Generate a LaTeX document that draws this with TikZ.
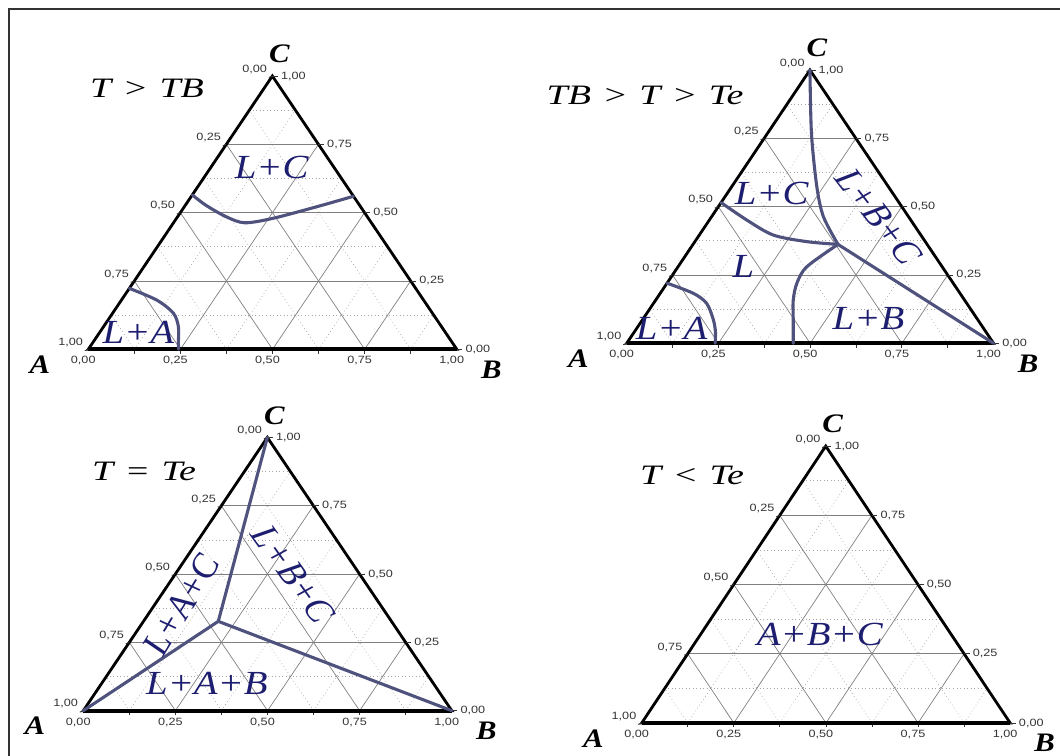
\documentclass[tikz,border=0pt]{standalone}
\usepackage{fontspec}
\setmainfont{Liberation Serif}
\newfontfamily\tickfont{Liberation Sans}
\usepackage{tikz}
\usetikzlibrary{calc}
\usepackage{xcolor}
\definecolor{phasecol}{RGB}{78,82,125}
\definecolor{labelcol}{RGB}{30,30,112}

\tikzset{
  gridmajor/.style={black!50, line width=0.5pt},
  gridminor/.style={black!35, dotted, line width=0.5pt},
  frameline/.style={black, line width=2pt},
  tickline/.style={black!80, line width=0.6pt},
  ticklabel/.style={font=\tickfont\fontsize{7.5}{9}\selectfont, xscale=1.2, inner sep=0pt, text=black!80},
  phaseline/.style={phasecol, line width=2.2pt, line cap=round},
  phaselabel/.style={labelcol, font=\fontsize{24}{28}\selectfont\itshape, xscale=1.15, inner sep=0pt},
  vertexlabel/.style={font=\fontsize{19}{22}\selectfont\bfseries\itshape, xscale=1.15, inner sep=0pt},
  paneltitle/.style={font=\fontsize{20}{24}\selectfont\itshape, xscale=1.35, inner sep=0pt},
}

% grid, frame, ticks and corner labels of one ternary diagram
% coordinates inside are (B fraction, C fraction)
\newcommand{\ternaryframe}[1]{%
  \foreach \k in {0.125,0.375,0.625,0.875}{
    \draw[gridminor] (0,\k) -- ({1-\k},\k);
    \draw[gridminor] (\k,0) -- (\k,{1-\k});
    \draw[gridminor] (\k,0) -- (0,\k);
  }
  \foreach \k in {0.25,0.5,0.75}{
    \draw[gridmajor] (0,\k) -- ({1-\k},\k);
    \draw[gridmajor] (\k,0) -- (\k,{1-\k});
    \draw[gridmajor] (\k,0) -- (0,\k);
  }
  \foreach \k in {0.125,0.25,...,0.875}
    \draw[tickline] (\k,0) -- ++(0,-3pt);
  \draw[frameline] (0,0) -- (1,0) -- (0,1) -- cycle;
  \draw[black, line width=2.6pt] (0,0) -- (1,0);
  \foreach \v/\t [count=\i] in {0/{0,00},0.25/{0,25},0.5/{0,50},0.75/{0,75},1/{1,00}}{
    \node[ticklabel, anchor=north, xshift=-3pt, yshift=-5pt] (#1-bot\i) at (\v,0) {\t};
    \draw[tickline] ({1-\v},\v) -- ++(4pt,0);
    \node[ticklabel, anchor=west, xshift=5pt] (#1-right\i) at ({1-\v},\v) {\t};
    \draw[tickline] (0,{1-\v}) -- ++(-2.5pt,-1pt);
    \node[ticklabel, anchor=south east, xshift=-3pt, yshift=1.5pt] (#1-left\i) at (0,{1-\v}) {\t};
  }
  \node[vertexlabel, xshift=-1.05cm, yshift=-0.38cm] (#1-A) at (0,0) {A};
  \node[vertexlabel, xshift=0.75cm, yshift=-0.5cm] (#1-B) at (1,0) {B};
  \node[vertexlabel, xshift=0.15cm, yshift=0.55cm] (#1-C) at (0,1) {C};
}

\begin{document}
\begin{tikzpicture}[x=0.025cm, y=0.025cm]
  \useasboundingbox (0,0) rectangle (1060,756);
  \draw[black!80, line width=1.4pt] (9,0) -- (9,747) -- (1060,747);

  % T > TB
  \node[paneltitle] (t1) at (147,668) {T\hspace{0.3em}>\hspace{0.3em}TB};
  \begin{scope}[shift={(88.3,406.7)}, x={(9.21cm,0cm)}, y={(4.60cm,6.83cm)}]
    \ternaryframe{p1}
    \draw[phaseline] plot[smooth] coordinates {(0,0.565) (0.056,0.527) (0.132,0.485) (0.193,0.463) (0.261,0.479) (0.358,0.521) (0.44,0.56)};
    \draw[phaseline] plot[smooth] coordinates {(0,0.223) (0.096,0.18) (0.165,0.132) (0.203,0.083) (0.232,0.025) (0.245,0)};
    \node[phaselabel] (p1-lc) at (0.166,0.664) {L+C};
    \node[phaselabel] (p1-la) at (0.105,0.062) {L+A};
  \end{scope}

  % TB > T > Te
  \node[paneltitle] (t2) at (645,661) {TB\hspace{0.3em}>\hspace{0.3em}T\hspace{0.3em}>\hspace{0.3em}Te};
  \begin{scope}[shift={(626.7,412.7)}, x={(9.17cm,0cm)}, y={(4.58cm,6.83cm)}]
    \ternaryframe{p2}
    \coordinate (p2-e) at (0.395,0.362);
    \draw[phaseline] plot[smooth] coordinates {(0,1) (0.12,0.768) (0.232,0.573) (0.305,0.463) (0.395,0.362)};
    \draw[phaseline] plot[smooth] coordinates {(0,0.515) (0.102,0.451) (0.202,0.396) (0.305,0.372) (0.395,0.362)};
    \draw[phaseline] (p2-e) -- (1,0);
    \draw[phaseline] plot[smooth] coordinates {(0.395,0.362) (0.351,0.28) (0.354,0.22) (0.375,0.158) (0.415,0.078) (0.454,0)};
    \draw[phaseline] plot[smooth] coordinates {(0,0.22) (0.09,0.183) (0.145,0.146) (0.194,0.085) (0.222,0.04) (0.241,0)};
    \node[phaselabel] (p2-lc) at (0.121,0.549) {L+C};
    \node[phaselabel, rotate=-56] (p2-lbc) at (0.455,0.463) {L+B+C};
    \node[phaselabel] (p2-l) at (0.178,0.28) {L};
    \node[phaselabel] (p2-lb) at (0.613,0.092) {L+B};
    \node[phaselabel] (p2-la) at (0.095,0.055) {L+A};
  \end{scope}

  % T = Te
  \node[paneltitle] (t3) at (144,285) {T\hspace{0.3em}=\hspace{0.3em}Te};
  \begin{scope}[shift={(83.3,45.3)}, x={(9.21cm,0cm)}, y={(4.60cm,6.83cm)}]
    \ternaryframe{p3}
    \coordinate (p3-e) at (0.203,0.327);
    \draw[phaseline] (0,1) -- (p3-e);
    \draw[phaseline] (0,0) -- (p3-e);
    \draw[phaseline] (p3-e) -- (1,0);
    \node[phaselabel, rotate=62] (p3-lac) at (0.073,0.388) {L+A+C};
    \node[phaselabel, rotate=-58] (p3-lbc) at (0.321,0.498) {L+B+C};
    \node[phaselabel] (p3-lab) at (0.285,0.101) {L+A+B};
  \end{scope}

  % T < Te
  \node[paneltitle] (t4) at (692,281) {T\hspace{0.3em}<\hspace{0.3em}Te};
  \begin{scope}[shift={(641.7,33)}, x={(9.21cm,0cm)}, y={(4.60cm,6.92cm)}]
    \ternaryframe{p4}
    \node[phaselabel] (p4-abc) at (0.324,0.319) {A+B+C};
  \end{scope}
\end{tikzpicture}
\end{document}
